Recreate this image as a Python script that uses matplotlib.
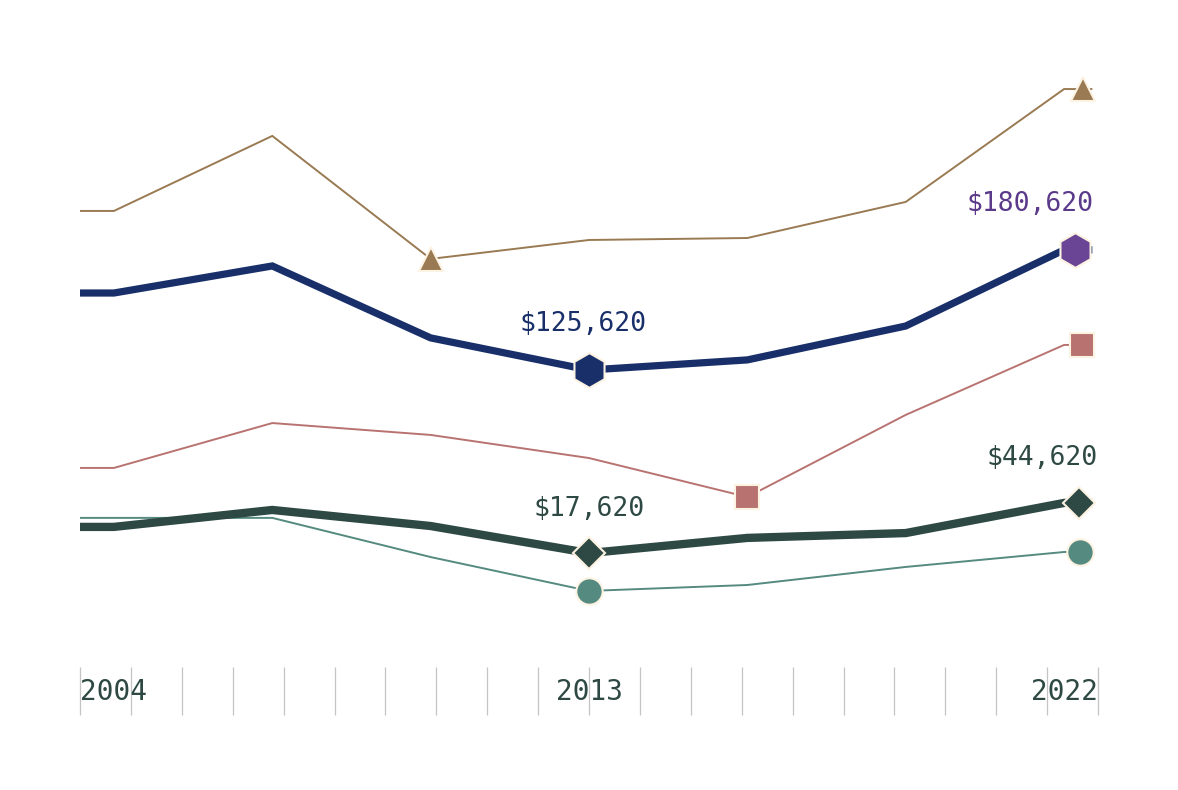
import matplotlib
matplotlib.use('Agg')
import matplotlib.pyplot as plt
import matplotlib.transforms as mtransforms
import numpy as np

# data (values in $ thousands)
years = [2004, 2004.6, 2007.4, 2010.2, 2013, 2015.8, 2018.6, 2021.4, 2021.9]
tan_vals = [197.9, 197.9, 232.0, 176.1, 184.7, 185.6, 202.0, 253.3, 253.3]
navy_vals = [160.6, 160.6, 172.9, 140.2, 125.6, 130.2, 145.6, 180.2, 180.2]
rose_vals = [81.1, 81.1, 101.5, 96.1, 85.6, 67.9, 105.2, 137.0, 137.0]
green_vals = [54.3, 54.3, 62.0, 54.7, 42.4, 49.3, 51.5, 65.2, 65.2]
teal_vals = [58.4, 58.4, 58.4, 40.6, 25.2, 27.9, 36.1, 42.9, 42.9]
end_x = [2021.73, 2021.59, 2021.71, 2021.66, 2021.68]
tick_years = np.linspace(2004, 2022, 21)
tick_labels = {2004: '2004', 2013: '2013', 2022: '2022'}
navy_labels = ['$125,620', '$180,620']
green_labels = ['$17,620', '$44,620']

EDGE = '#fdf3e3'
FONT = 'DejaVu Sans Mono'

series = [
    # values, line colour, lw, marker, size, min colour, end colour
    (tan_vals, '#9a7a52', 1.4, '^', 17, '#9a7a52', '#9a7a52'),
    (navy_vals, '#182f69', 5.2, 'h', 25, '#182f69', '#6a4596'),
    (rose_vals, '#b87371', 1.4, 's', 17, '#b87371', '#b87371'),
    (green_vals, '#2e4943', 6.0, 'D', 16, '#2e4943', '#2e4943'),
    (teal_vals, '#558a80', 1.4, 'o', 19, '#558a80', '#558a80'),
]

fig = plt.figure(figsize=(11.78, 7.90), dpi=100)
ax = fig.add_axes([80 / 1178, 150 / 790, 1018 / 1178, 580 / 790])
ax.set_xlim(2004, 2022)
ax.set_ylim(2.9, 266.5)

for i, (vals, col, lw, mk, ms, c_min, c_end) in enumerate(series):
    z = 3 if lw > 3 else 2
    ax.plot(years, vals, color=col, lw=lw, solid_joinstyle='miter',
            solid_capstyle='butt', zorder=z)
    k = int(np.argmin(vals[1:-1])) + 1
    ax.plot(years[k], vals[k], marker=mk, ms=ms, color=c_min,
            mec=EDGE, mew=1.5, zorder=5)
    ax.plot(end_x[i], vals[-1], marker=mk, ms=ms, color=c_end,
            mec=EDGE, mew=1.5, zorder=5)

# value labels
k = int(np.argmin(navy_vals[1:-1])) + 1
ax.annotate(navy_labels[0], (years[k], navy_vals[k]), xytext=(-4, 33),
            textcoords='offset points', ha='center', va='center',
            fontsize=19, family=FONT, color='#182f69')
ax.annotate(navy_labels[1], (2022, navy_vals[-1]), xytext=(-3, 33),
            textcoords='offset points', ha='right', va='center',
            fontsize=19, family=FONT, color='#5b3a8a')
k = int(np.argmin(green_vals[1:-1])) + 1
ax.annotate(green_labels[0], (years[k], green_vals[k]), xytext=(0, 32),
            textcoords='offset points', ha='center', va='center',
            fontsize=19, family=FONT, color='#2e4943')
ax.annotate(green_labels[1], (2022, green_vals[-1]), xytext=(0, 32),
            textcoords='offset points', ha='right', va='center',
            fontsize=19, family=FONT, color='#2e4943')

# x axis: long thin ticks below the plot
for s in ax.spines.values():
    s.set_visible(False)
ax.spines['bottom'].set_position(('outward', 19.4))
ax.set_yticks([])
ax.set_xticks(tick_years)
ax.set_xticklabels([])
ax.tick_params(axis='x', direction='out', length=34.5, width=0.9,
               color='#c4c4c4')

trans = mtransforms.blended_transform_factory(ax.transData, fig.transFigure)
for yr, lab in tick_labels.items():
    ha = 'left' if yr == 2004 else ('right' if yr == 2022 else 'center')
    ax.text(yr, 1 - 692 / 790, lab, transform=trans, ha=ha, va='center',
            fontsize=20, family=FONT, color='#2e4943')

fig.savefig('out.png', dpi=100, facecolor='white')
